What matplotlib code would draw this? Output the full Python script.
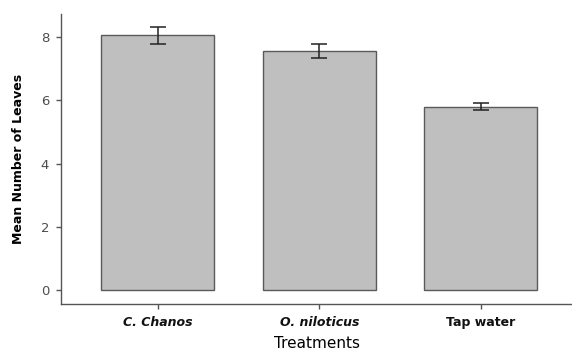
import matplotlib
matplotlib.use("Agg")
import matplotlib.pyplot as plt

categories = ["C. Chanos", "O. niloticus", "Tap water"]
means = [8.05, 7.56, 5.80]
errors = [0.27, 0.21, 0.11]
yticks = [0, 2, 4, 6, 8]

fig = plt.figure(figsize=(5.72, 3.52), dpi=100)
ax = fig.add_axes([61/572, 1-304/352, 1-61/572, (304-14)/352])

x = list(range(1, len(categories)+1))
ax.bar(x, means, width=0.7, color="#bfbfbf", edgecolor="#5a5a5a", linewidth=1.0, zorder=2)
ax.errorbar(x, means, yerr=errors, fmt="none", ecolor="#222222", elinewidth=1.1,
            capsize=6, capthick=1.1, zorder=3)

ax.set_xlim(0.4, 3.565)
ax.set_ylim(-0.443, 8.73)
ax.set_yticks(yticks)
ax.set_yticklabels([str(v) for v in yticks])
ax.set_xticks(x)
ax.set_xticklabels(categories)
for lbl, style in zip(ax.get_xticklabels(), ["italic", "italic", "normal"]):
    lbl.set_fontstyle(style)
    lbl.set_fontweight("bold")
    lbl.set_fontsize(9)
    lbl.set_color("#111111")

for s in ["top", "right"]:
    ax.spines[s].set_visible(False)
for s in ["left", "bottom"]:
    ax.spines[s].set_color("#555555")
    ax.spines[s].set_linewidth(1.0)

ax.tick_params(axis="both", color="#555555", length=3.5, width=1.0)
ax.tick_params(axis="y", labelcolor="#4d4d4d", labelsize=9.5, pad=5)
ax.tick_params(axis="x", pad=5)

ax.set_ylabel("Mean Number of Leaves", fontsize=9, fontweight="bold", labelpad=11)
ax.set_xlabel("Treatments", fontsize=11, labelpad=5)

fig.savefig("out.png", dpi=100)
